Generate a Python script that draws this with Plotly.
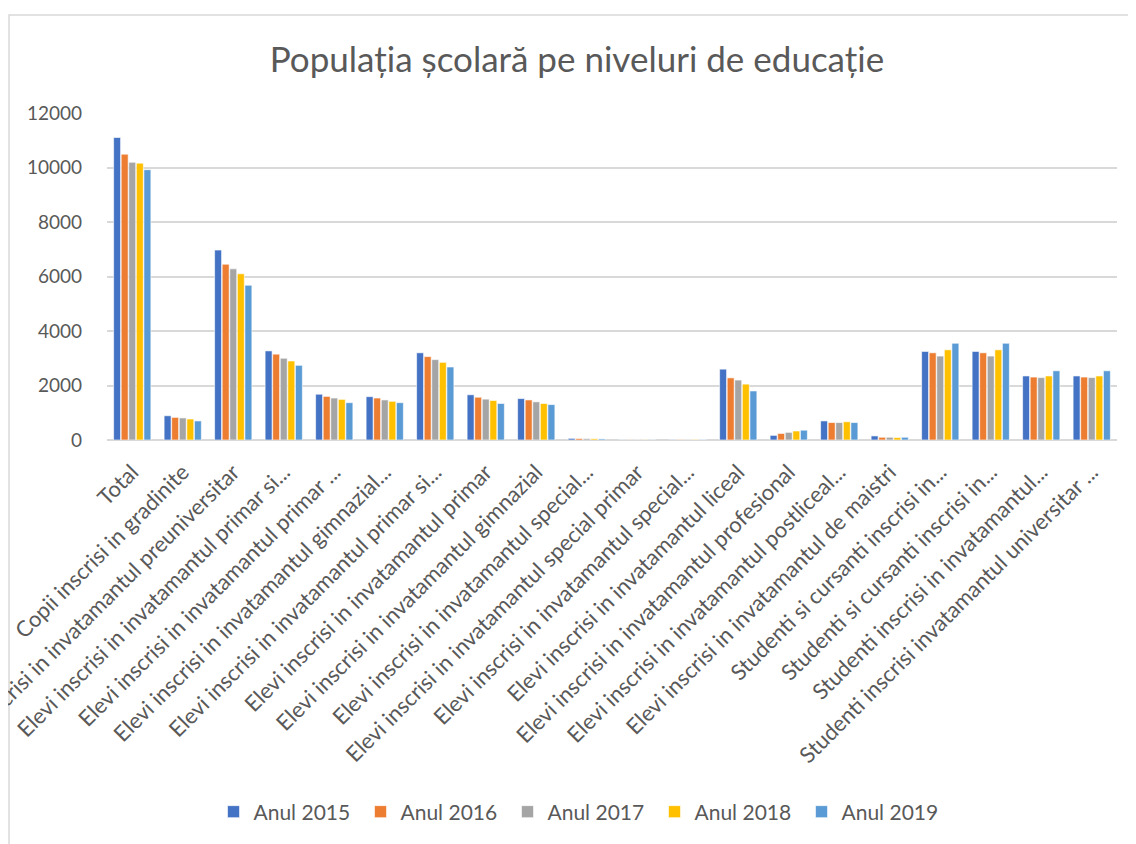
import plotly.graph_objects as go

# category labels as shown (truncated in the source chart)
categories = [
    "Total",
    "Copii inscrisi in gradinite",
    "Elevi inscrisi in invatamantul preuniversitar",
    "Elevi inscrisi in invatamantul primar si...",
    "Elevi inscrisi in invatamantul primar ...",
    "Elevi inscrisi in invatamantul gimnazial...",
    "Elevi inscrisi in invatamantul primar si...",
    "Elevi inscrisi in invatamantul primar",
    "Elevi inscrisi in invatamantul gimnazial",
    "Elevi inscrisi in invatamantul special...",
    "Elevi inscrisi in invatamantul special primar",
    "Elevi inscrisi in invatamantul special...",
    "Elevi inscrisi in invatamantul liceal",
    "Elevi inscrisi in invatamantul profesional",
    "Elevi inscrisi in invatamantul postliceal...",
    "Elevi inscrisi in invatamantul de maistri",
    "Studenti si cursanti inscrisi in...",
    "Studenti si cursanti inscrisi in...",
    "Studenti inscrisi in invatamantul...",
    "Studenti inscrisi invatamantul universitar ...",
]

an_2015 = [11100, 890, 6970, 3270, 1680, 1590, 3200, 1660, 1520, 60, 5, 10, 2600, 170, 700, 150, 3250, 3250, 2350, 2350]
an_2016 = [10490, 830, 6450, 3150, 1600, 1540, 3060, 1570, 1470, 55, 5, 15, 2280, 240, 640, 100, 3200, 3200, 2310, 2310]
an_2017 = [10190, 810, 6280, 3000, 1540, 1470, 2950, 1500, 1400, 50, 5, 20, 2200, 280, 640, 100, 3080, 3080, 2290, 2290]
an_2018 = [10160, 770, 6100, 2900, 1490, 1420, 2850, 1450, 1340, 45, 5, 20, 2050, 330, 670, 90, 3310, 3310, 2350, 2350]
an_2019 = [9920, 700, 5680, 2740, 1370, 1370, 2680, 1340, 1300, 40, 5, 15, 1800, 360, 640, 100, 3550, 3550, 2540, 2540]

series_names = ["Anul 2015", "Anul 2016", "Anul 2017", "Anul 2018", "Anul 2019"]
series_values = [an_2015, an_2016, an_2017, an_2018, an_2019]
colors = ["#4472C4", "#ED7D31", "#A5A5A5", "#FFC000", "#5B9BD5"]

y_ticks = [0, 2000, 4000, 6000, 8000, 10000, 12000]

FONT = "Lato"
GREY = "#595959"

# the page body adds an 8px margin, so the figure is sized to fit inside the window
W, H = 1128, 836

x_pos = list(range(len(categories)))

fig = go.Figure()
for name, vals, col in zip(series_names, series_values, colors):
    fig.add_trace(go.Bar(
        x=x_pos,
        y=vals,
        name=name,
        marker=dict(color=col, line=dict(color="rgba(255,255,255,0.6)", width=1)),
    ))

fig.update_layout(
    width=W,
    height=H,
    paper_bgcolor="white",
    plot_bgcolor="white",
    barmode="group",
    bargap=0.25,
    bargroupgap=0.08,
    margin=dict(l=99, r=19, t=105, b=404, autoexpand=False),
    font=dict(family=FONT, color=GREY),
    title=dict(
        text="Populația școlară pe niveluri de educație",
        font=dict(family=FONT, size=35, color=GREY),
        xref="container", x=0.5044, xanchor="center",
        yref="container", y=0.9378, yanchor="middle",
    ),
    legend=dict(
        orientation="h",
        xref="container", x=0.508, xanchor="center",
        yref="container", y=0.0383, yanchor="middle",
        font=dict(family=FONT, size=21, color=GREY),
        entrywidth=102,
        itemwidth=30,
    ),
    showlegend=True,
)

fig.update_xaxes(
    tickmode="array",
    tickvals=x_pos,
    ticktext=categories,
    tickangle=-45,
    tickfont=dict(family=FONT, size=22, color=GREY),
    ticklabeloverflow="allow",
    ticklabelstandoff=14,
    range=[-0.5, len(categories) - 0.5],
    showgrid=False,
    showline=False,
    ticks="",
    automargin=False,
)

fig.update_yaxes(
    range=[0, 12000],
    tickmode="array",
    tickvals=y_ticks,
    tickformat="d",
    tickfont=dict(family=FONT, size=19, color=GREY),
    showgrid=True,
    gridcolor="#D9D9D9",
    gridwidth=1.5,
    zeroline=True,
    zerolinecolor="#D9D9D9",
    zerolinewidth=1.5,
    showline=False,
    ticks="",
    ticklabelstandoff=24,
    automargin=False,
)

# chart-area border (runs past the right and bottom edges like the reference)
fig.add_shape(
    type="rect", xref="paper", yref="paper",
    x0=-0.097, x1=1.03, y0=-1.3, y1=1.2997,
    line=dict(color="#D9D9D9", width=1.5),
    fillcolor="rgba(0,0,0,0)", layer="below",
)

fig.write_html("out.html")
